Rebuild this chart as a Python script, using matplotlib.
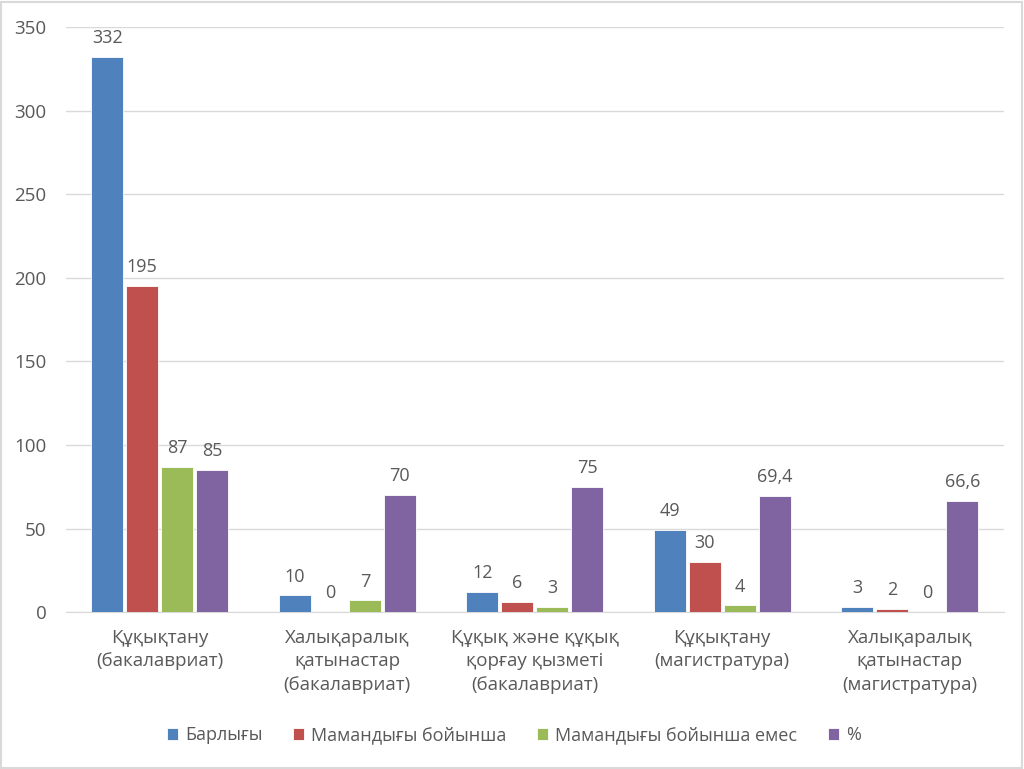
import numpy as np
import matplotlib
matplotlib.use("Agg")
import matplotlib.pyplot as plt
from matplotlib.patches import Rectangle

categories = ["Құқықтану\n(бакалавриат)",
              "Халықаралық\nқатынастар\n(бакалавриат)",
              "Құқық және құқық\nқорғау қызметі\n(бакалавриат)",
              "Құқықтану\n(магистратура)",
              "Халықаралық\nқатынастар\n(магистратура)"]
series_names = ["Барлығы", "Мамандығы бойынша", "Мамандығы бойынша емес", "%"]
total = [332, 10, 12, 49, 3]
by_spec = [195, 0, 6, 30, 2]
not_spec = [87, 7, 3, 4, 0]
percent = [85, 70, 75, 69.4, 66.6]
colors = ["#4F81BD", "#C0504D", "#9BBB59", "#8064A2"]
yticks = [0, 50, 100, 150, 200, 250, 300, 350]

TXT = "#595959"
plt.rcParams['font.family'] = ['Open Sans', 'DejaVu Sans']

fig = plt.figure(figsize=(10.24, 7.69), dpi=100)
ax = fig.add_axes([0.0645, 0.204, 0.9155, 0.761])

x = np.arange(len(categories))
step, width = 0.187, 0.17
for i, (vals, col) in enumerate(zip([total, by_spec, not_spec, percent], colors)):
    pos = x + (i - 1.5) * step
    ax.bar(pos, vals, width, color=col, edgecolor="white", linewidth=0.6,
           label=series_names[i], zorder=3)
    for p, v in zip(pos, vals):
        s = f"{v:g}".replace(".", ",")
        ax.annotate(s, (p, v), xytext=(0, 7), textcoords="offset points",
                    ha="center", va="bottom", fontsize=13, color=TXT)

ax.set_xlim(-0.5, len(categories) - 0.5)
ax.set_ylim(0, 350)
ax.set_yticks(yticks)
ax.set_xticks(x)
ax.set_xticklabels(categories, fontsize=13.5, color=TXT, linespacing=1.4)
ax.tick_params(axis="y", labelsize=13.5, colors=TXT, length=0, pad=14)
ax.tick_params(axis="x", length=0, pad=12)
ax.yaxis.grid(True, color="#D9D9D9", linewidth=1)
ax.set_axisbelow(True)
for sp in ["top", "right", "left"]:
    ax.spines[sp].set_visible(False)
ax.spines["bottom"].set_color("#D9D9D9")

fig.legend(loc="center", bbox_to_anchor=(0.502, 0.044), ncol=4, frameon=False,
           fontsize=13, labelcolor=TXT, handlelength=0.6, handleheight=0.6,
           handletextpad=0.4, columnspacing=1.7)

fig.patches.append(Rectangle((0.001, 0.001), 0.997, 0.997, transform=fig.transFigure,
                             fill=False, edgecolor="#D9D9D9", linewidth=1.5))

fig.savefig("out.png", dpi=100, facecolor="white")
